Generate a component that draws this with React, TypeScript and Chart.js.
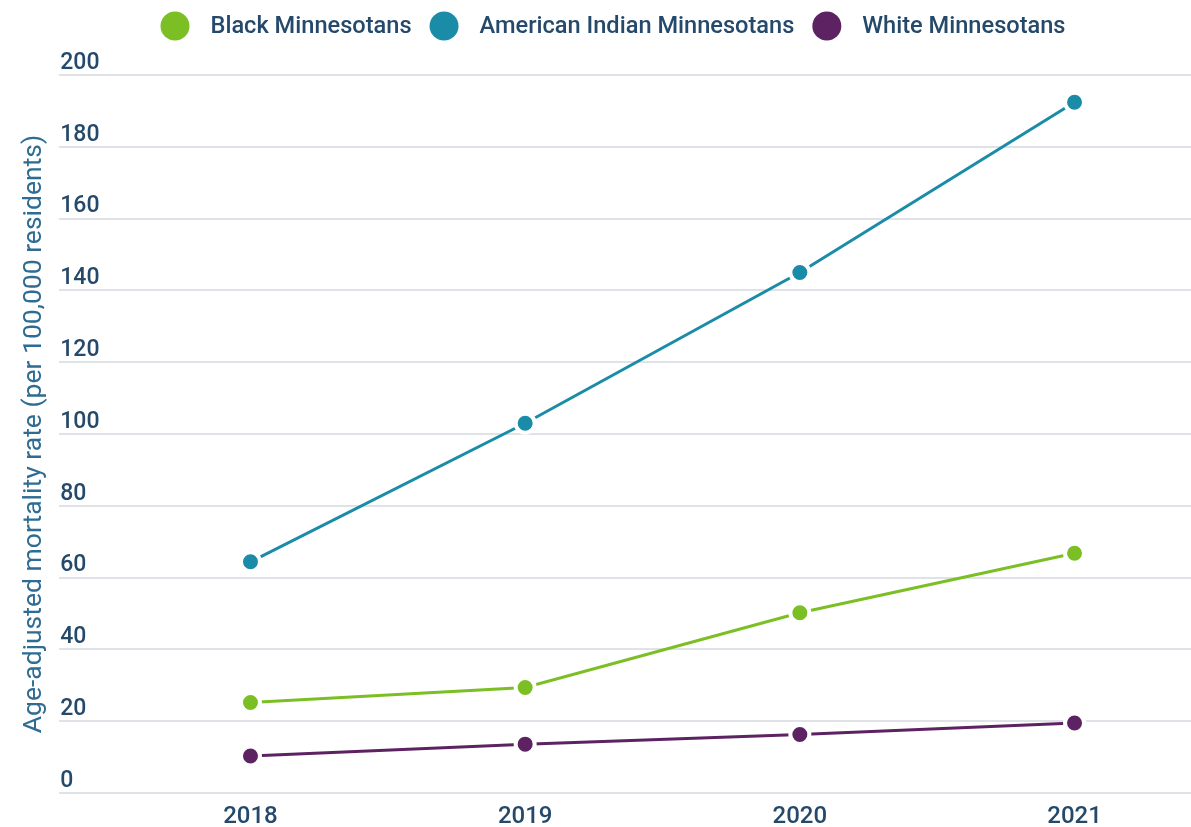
import React, { useEffect, useRef } from "react";
import { Chart, registerables } from "chart.js";

Chart.register(...registerables);

const years = [2018, 2019, 2020, 2021];
const seriesNames = ["Black Minnesotans", "American Indian Minnesotans", "White Minnesotans"];
const blackValues = [25.2, 29.4, 50.2, 66.8];
const americanIndianValues = [64.4, 103.0, 145.0, 192.4];
const whiteValues = [10.3, 13.6, 16.3, 19.5];
const seriesColors = ["#7bbf25", "#1a8ca8", "#5c2262"];
const yTicks = [0, 20, 40, 60, 80, 100, 120, 140, 160, 180, 200];
const yTitle = "Age-adjusted mortality rate (per 100,000 residents)";

const FONT = "Roboto, 'Open Sans', sans-serif";
const TICK_COLOR = "#25496a";
const TITLE_COLOR = "#2f6c93";

const legendPlugin = {
  id: "customLegend",
  afterDraw(chart: any) {
    const ctx = chart.ctx;
    const fontSize = 23.6;
    const r = 14.5;
    const gapText = 21;
    const gapItem = 18;
    ctx.save();
    ctx.font = `500 ${fontSize}px ${FONT}`;
    const items = chart.data.datasets.map((ds: any) => ({
      label: ds.label,
      color: ds.borderColor,
      w: ctx.measureText(ds.label).width,
    }));
    const total =
      items.reduce((s: number, it: any) => s + 2 * r + gapText + it.w, 0) +
      gapItem * (items.length - 1);
    const center = 613;
    let x = center - total / 2;
    const cy = 26;
    items.forEach((it: any) => {
      ctx.beginPath();
      ctx.fillStyle = it.color;
      ctx.arc(x + r, cy, r, 0, Math.PI * 2);
      ctx.fill();
      x += 2 * r + gapText;
      ctx.fillStyle = TICK_COLOR;
      ctx.textBaseline = "middle";
      ctx.textAlign = "left";
      ctx.fillText(it.label, x, cy + 1);
      x += it.w + gapItem;
    });
    ctx.restore();
  },
};

export default function App() {
  const ref = useRef<HTMLCanvasElement>(null);
  useEffect(() => {
    if (!ref.current) return;
    const allSeries = [blackValues, americanIndianValues, whiteValues];
    const chart = new Chart(ref.current, {
      type: "line",
      data: {
        datasets: allSeries.map((vals, i) => ({
          label: seriesNames[i],
          data: years.map((yr, j) => ({ x: yr, y: vals[j] })),
          borderColor: seriesColors[i],
          backgroundColor: seriesColors[i],
          pointBackgroundColor: seriesColors[i],
          pointBorderColor: "#ffffff",
          pointBorderWidth: 4,
          pointRadius: 9.5,
          borderWidth: 3,
          tension: 0,
        })),
      },
      options: {
        responsive: false,
        animation: false,
        layout: { autoPadding: false, padding: { top: 75, left: 18, right: 0, bottom: -2 } },
        plugins: {
          legend: { display: false },
          tooltip: { enabled: false },
        },
        scales: {
          x: {
            type: "linear",
            min: 2017.304,
            max: 2021.424,
            grid: { display: false, drawTicks: true, tickLength: 12 },
            border: { display: false },
            afterBuildTicks: (axis: any) => {
              axis.ticks = years.map((v) => ({ value: v }));
            },
            ticks: {
              color: TICK_COLOR,
              padding: 0,
              font: { family: FONT, size: 24, weight: "500", lineHeight: 1 },
              callback: (v: any) => String(v),
            },
          },
          y: {
            min: 0,
            max: 200,
            afterBuildTicks: (axis: any) => {
              axis.ticks = yTicks.map((v) => ({ value: v }));
            },
            grid: { color: "#dfe3e7", lineWidth: 2, drawTicks: false },
            border: { display: false },
            ticks: {
              mirror: true,
              padding: 1,
              labelOffset: -12,
              color: TICK_COLOR,
              font: { family: FONT, size: 23, weight: "500" },
            },
            title: {
              display: true,
              text: yTitle,
              color: TITLE_COLOR,
              font: { family: FONT, size: 26.5, lineHeight: 1.2 },
              padding: { top: 0, bottom: 7.5 },
            },
          },
        },
      },
      plugins: [legendPlugin],
    });
    return () => chart.destroy();
  }, []);
  return (
    <div style={{ position: "fixed", left: 0, top: 0, width: 1191, height: 827, background: "#fff" }}>
      <canvas ref={ref} width={1191} height={827} />
    </div>
  );
}
